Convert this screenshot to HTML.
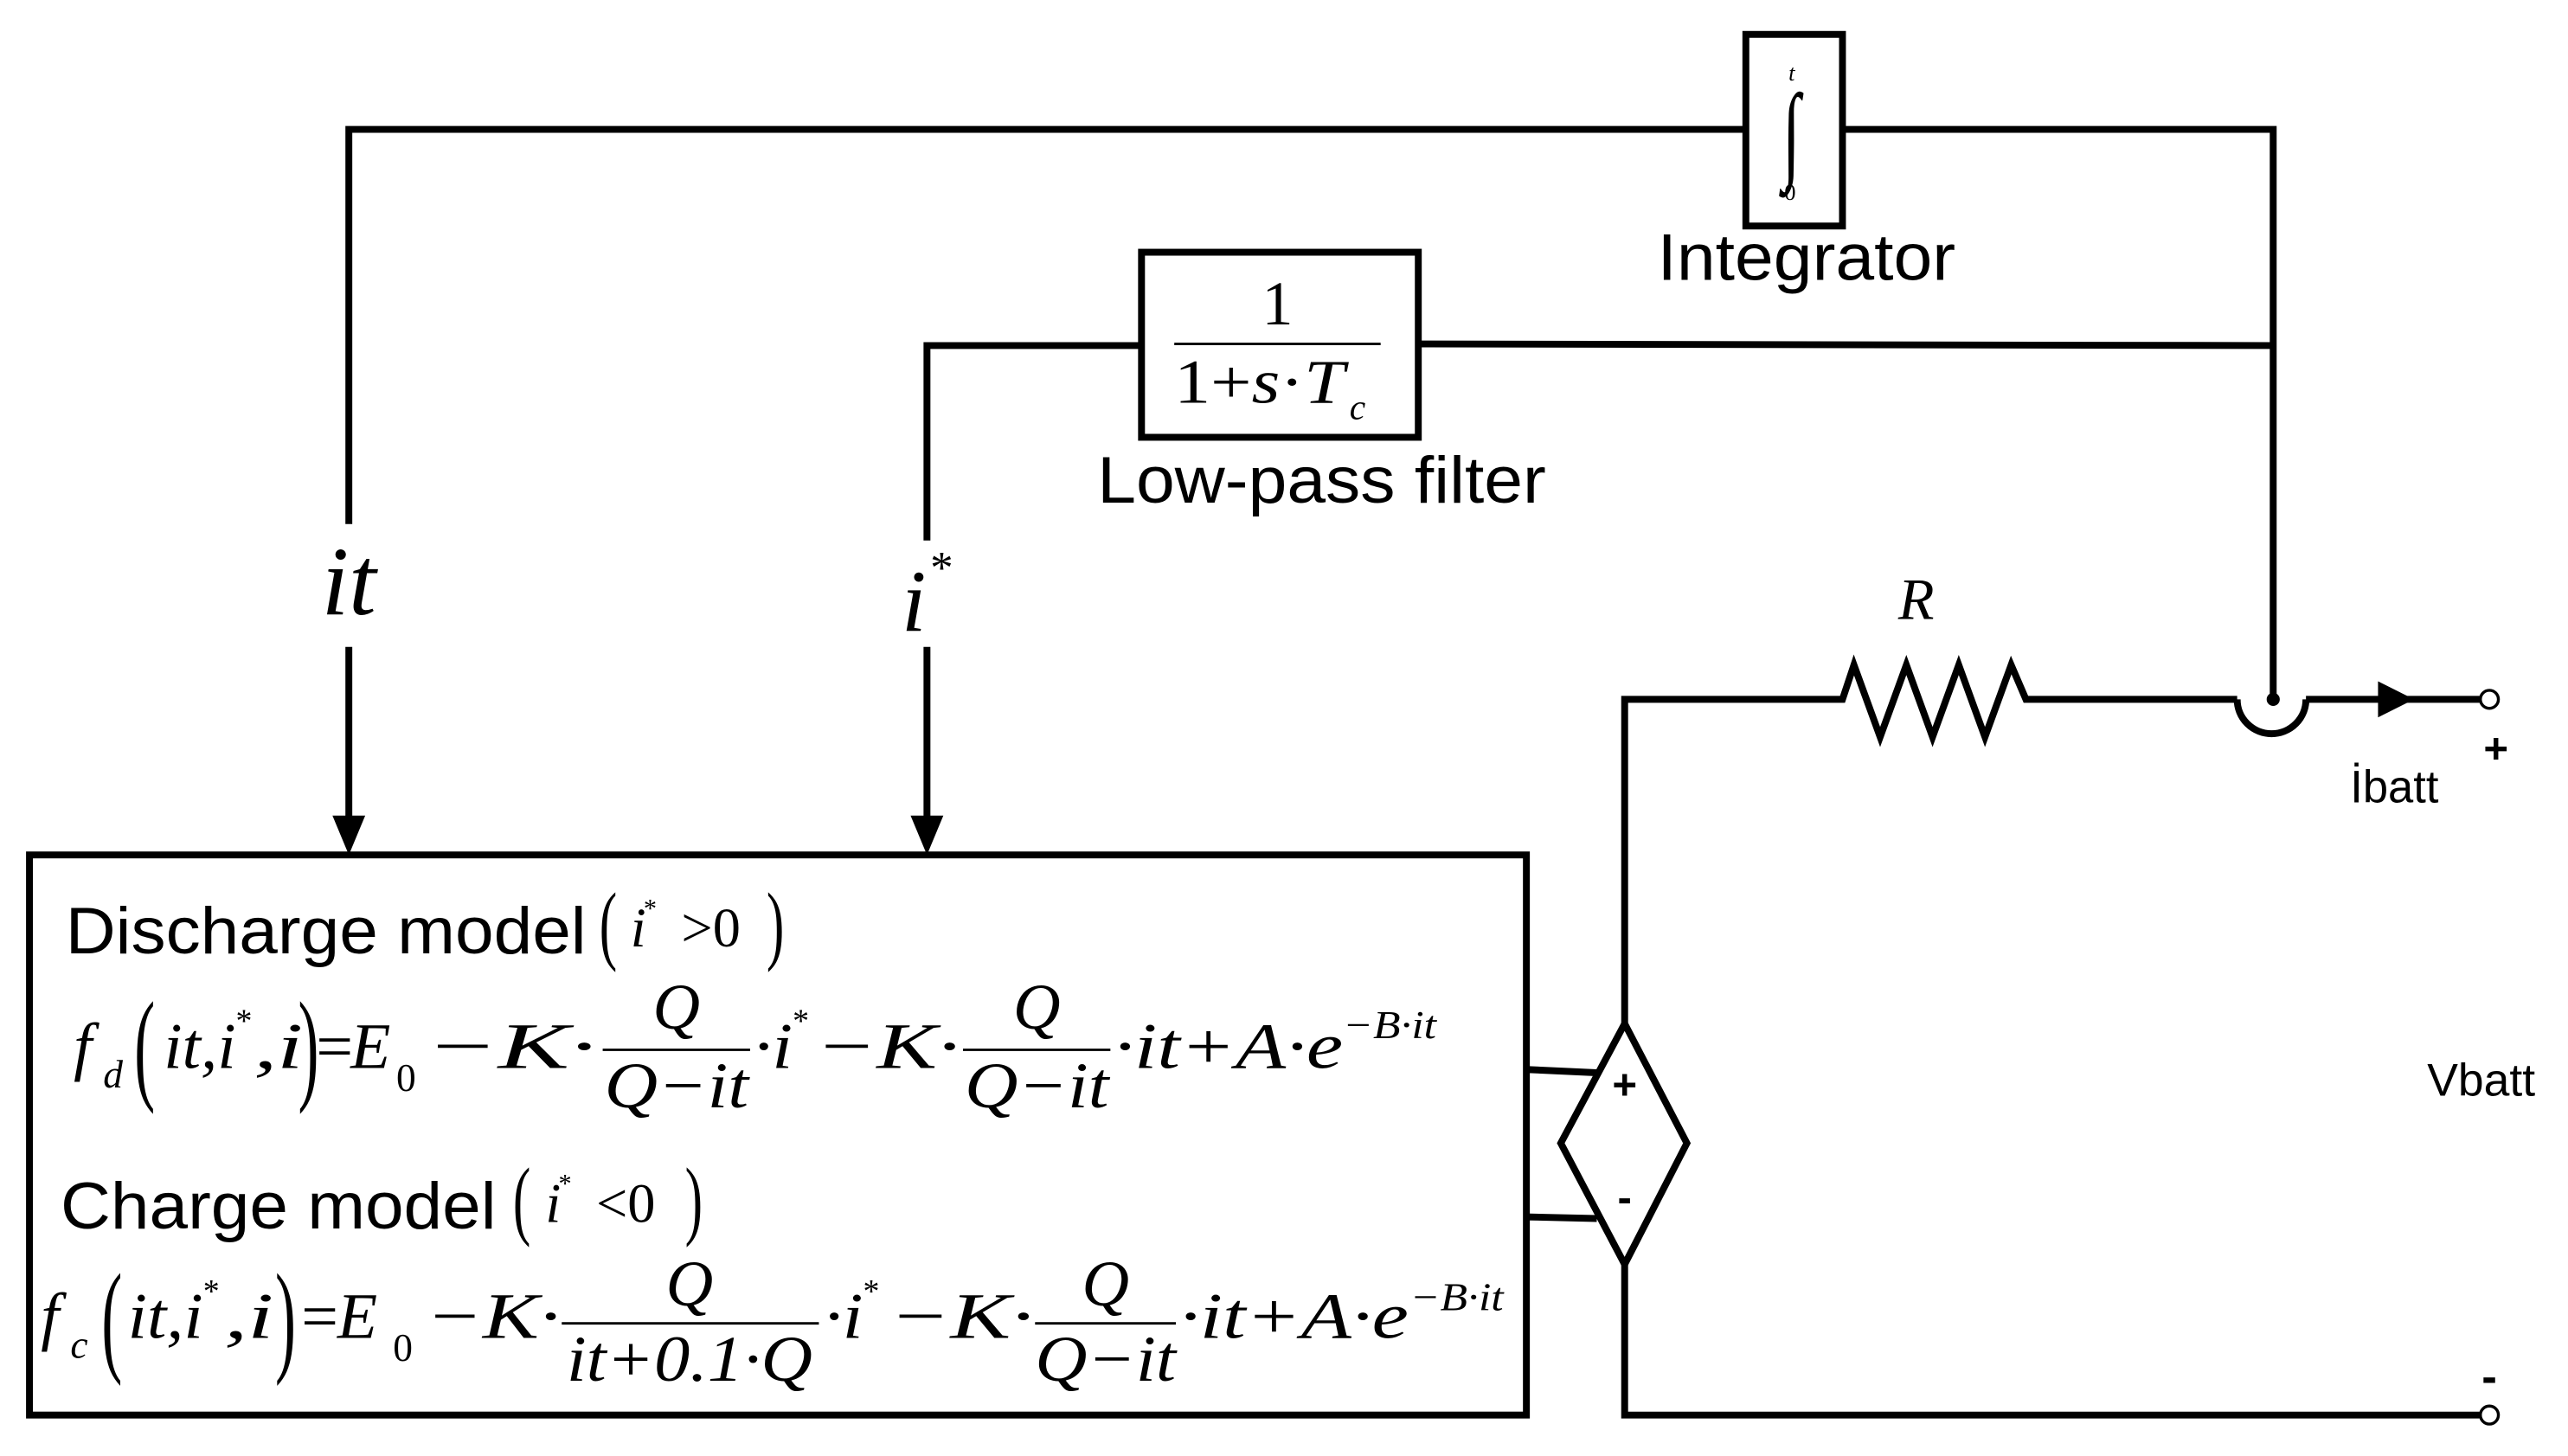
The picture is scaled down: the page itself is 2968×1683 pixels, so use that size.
<!DOCTYPE html>
<html><head><meta charset="utf-8"><style>
html,body{margin:0;padding:0;background:#fff;}
svg{display:block}
.s{font-family:"Liberation Sans",Arial,sans-serif;}
.m{font-family:"Liberation Serif","Times New Roman",serif;font-style:italic;}
.r{font-family:"Liberation Serif","Times New Roman",serif;font-style:normal;}
</style></head><body>
<svg width="2968" height="1683" viewBox="0 0 1568 889" preserveAspectRatio="none" xmlns="http://www.w3.org/2000/svg">
<g fill="none" stroke="#000" stroke-width="4.2" stroke-linejoin="miter">
<polyline points="213,320 213,79 1066,79"/>
<polyline points="1125,79 1388,79 1388,426"/>
<rect x="1066" y="21" width="59" height="117"/>
<line x1="213" y1="395" x2="213" y2="500"/>
<rect x="697" y="154" width="169" height="113"/>
<polyline points="697,211 566,211 566,330"/>
<line x1="866" y1="210" x2="1388" y2="211"/>
<line x1="566" y1="395" x2="566" y2="500"/>
<rect x="18" y="522" width="914" height="342"/>
<polyline points="992,625 992,427 1125,427 1132,406 1148,450 1164,406 1180,450 1196,406 1212,450 1228,406 1237,427 1366,427"/>
<path d="M1366,427 A21,21 0 0 0 1408,427"/>
<line x1="1408" y1="427" x2="1514" y2="427"/>
<polygon points="992,625 1030,698 992,772 953,698"/>
<polyline points="992,772 992,864 1514,864"/>
<line x1="932" y1="653" x2="975" y2="655"/>
<line x1="932" y1="743" x2="975" y2="744"/>
</g>
<g fill="#000">
<polygon points="203,498 223,498 213,522"/>
<polygon points="556,498 576,498 566,522"/>
<polygon points="1452,416 1452,438 1474,427"/>
<circle cx="1388" cy="427" r="4"/>
</g>
<g fill="#fff" stroke="#000" stroke-width="1.8">
<circle cx="1520" cy="427" r="5.5"/>
<circle cx="1520" cy="864" r="5.5"/>
</g>
<text x="1094" y="49" class="m" font-size="14" text-anchor="middle">t</text>
<text x="1094" y="103" class="r" font-size="66" text-anchor="middle" transform="scale(0.6,1) translate(729,0)">∫</text>
<text x="1093" y="122" class="r" font-size="14" text-anchor="middle">0</text>
<text x="1103" y="171" class="s" font-size="40" text-anchor="middle" textLength="182" lengthAdjust="spacingAndGlyphs">Integrator</text>
<text x="780" y="198" class="r" font-size="38" text-anchor="middle">1</text>
<line x1="717" y1="210" x2="843" y2="210" stroke="#000" stroke-width="1.5"/>
<text x="717" y="246" class="r" font-size="38" textLength="104" lengthAdjust="spacingAndGlyphs">1+<tspan class="m">s</tspan>·<tspan class="m">T</tspan></text>
<text x="824" y="256" class="m" font-size="22">c</text>
<text x="807" y="307" class="s" font-size="40" text-anchor="middle" textLength="274" lengthAdjust="spacingAndGlyphs">Low-pass filter</text>
<text x="213" y="375" class="m" font-size="60" text-anchor="middle">it</text>
<text x="558" y="385" class="m" font-size="54" text-anchor="middle">i</text>
<text x="575" y="356" class="r" font-size="28" text-anchor="middle">*</text>
<text x="1170" y="378" class="m" font-size="36" text-anchor="middle">R</text>
<text x="1524" y="466" class="s" font-size="26" text-anchor="middle" font-weight="bold">+</text>
<text x="1435" y="490" class="s" font-size="28" textLength="54" lengthAdjust="spacingAndGlyphs">İbatt</text>
<text x="1482" y="669" class="s" font-size="28" textLength="66" lengthAdjust="spacingAndGlyphs">Vbatt</text>
<text x="1520" y="850" class="s" font-size="28" text-anchor="middle" font-weight="bold">-</text>
<text x="992" y="671" class="s" font-size="26" text-anchor="middle" font-weight="bold">+</text>
<text x="992" y="740" class="s" font-size="26" text-anchor="middle" font-weight="bold">-</text>
<!-- Discharge -->
<text x="40" y="582" class="s" font-size="40" textLength="318" lengthAdjust="spacingAndGlyphs">Discharge model</text>
<text x="366" y="582" class="r" font-size="54" transform="scale(0.6,1) translate(244,0)">(</text>
<text x="385" y="578" class="m" font-size="34">i</text>
<text x="393" y="560" class="r" font-size="16">*</text>
<text x="416" y="578" class="r" font-size="34">&gt;0</text>
<text x="468" y="582" class="r" font-size="54" transform="scale(0.6,1) translate(312,0)">)</text>
<!-- fd -->
<text x="45" y="652" class="m" font-size="40">f</text>
<text x="63" y="664" class="m" font-size="24">d</text>
<text x="82" y="664" class="r" font-size="76" transform="scale(0.5,1) translate(82,0)">(</text>
<text x="100" y="652" class="m" font-size="40" textLength="44" lengthAdjust="spacingAndGlyphs">it,i</text>
<text x="144" y="630" class="r" font-size="20">*</text>
<text x="155" y="652" class="m" font-size="40" textLength="30" lengthAdjust="spacingAndGlyphs">,i</text>
<text x="182" y="664" class="r" font-size="76" transform="scale(0.5,1) translate(182,0)">)</text>
<text x="193" y="652" class="r" font-size="40">=</text>
<text x="214" y="652" class="m" font-size="40">E</text>
<text x="242" y="666" class="r" font-size="24">0</text>
<text x="260" y="652" class="m" font-size="40" textLength="104" lengthAdjust="spacingAndGlyphs">−K·</text>
<text x="413" y="628" class="m" font-size="40" text-anchor="middle">Q</text>
<line x1="368" y1="641" x2="458" y2="641" stroke="#000" stroke-width="1.5"/>
<text x="413" y="676" class="m" font-size="40" text-anchor="middle" textLength="88" lengthAdjust="spacingAndGlyphs">Q−it</text>
<text x="460" y="652" class="m" font-size="40" textLength="24" lengthAdjust="spacingAndGlyphs">·i</text>
<text x="484" y="630" class="r" font-size="20">*</text>
<text x="498" y="652" class="m" font-size="40" textLength="88" lengthAdjust="spacingAndGlyphs">−K·</text>
<text x="633" y="628" class="m" font-size="40" text-anchor="middle">Q</text>
<line x1="588" y1="641" x2="678" y2="641" stroke="#000" stroke-width="1.5"/>
<text x="633" y="676" class="m" font-size="40" text-anchor="middle" textLength="88" lengthAdjust="spacingAndGlyphs">Q−it</text>
<text x="680" y="652" class="m" font-size="40" textLength="140" lengthAdjust="spacingAndGlyphs">·it+A·e</text>
<text x="820" y="634" class="m" font-size="24" textLength="57" lengthAdjust="spacingAndGlyphs">−B·it</text>
<!-- Charge -->
<text x="37" y="750" class="s" font-size="40" textLength="266" lengthAdjust="spacingAndGlyphs">Charge model</text>
<text x="313" y="750" class="r" font-size="54" transform="scale(0.6,1) translate(209,0)">(</text>
<text x="333" y="746" class="m" font-size="34">i</text>
<text x="341" y="728" class="r" font-size="16">*</text>
<text x="364" y="746" class="r" font-size="34">&lt;0</text>
<text x="418" y="750" class="r" font-size="54" transform="scale(0.6,1) translate(279,0)">)</text>
<!-- fc -->
<text x="25" y="817" class="m" font-size="40">f</text>
<text x="43" y="829" class="m" font-size="24">c</text>
<text x="62" y="830" class="r" font-size="76" transform="scale(0.5,1) translate(62,0)">(</text>
<text x="78" y="817" class="m" font-size="40" textLength="46" lengthAdjust="spacingAndGlyphs">it,i</text>
<text x="124" y="795" class="r" font-size="20">*</text>
<text x="137" y="817" class="m" font-size="40" textLength="30" lengthAdjust="spacingAndGlyphs">,i</text>
<text x="168" y="830" class="r" font-size="76" transform="scale(0.5,1) translate(168,0)">)</text>
<text x="184" y="817" class="r" font-size="40">=</text>
<text x="206" y="817" class="m" font-size="40">E</text>
<text x="240" y="831" class="r" font-size="24">0</text>
<text x="260" y="817" class="m" font-size="40" textLength="82" lengthAdjust="spacingAndGlyphs">−K·</text>
<text x="421" y="797" class="m" font-size="40" text-anchor="middle">Q</text>
<line x1="343" y1="808" x2="500" y2="808" stroke="#000" stroke-width="1.5"/>
<text x="421" y="843" class="m" font-size="40" text-anchor="middle" textLength="150" lengthAdjust="spacingAndGlyphs">it+0.1·Q</text>
<text x="503" y="817" class="m" font-size="40" textLength="24" lengthAdjust="spacingAndGlyphs">·i</text>
<text x="527" y="795" class="r" font-size="20">*</text>
<text x="543" y="817" class="m" font-size="40" textLength="88" lengthAdjust="spacingAndGlyphs">−K·</text>
<text x="675" y="797" class="m" font-size="40" text-anchor="middle">Q</text>
<line x1="632" y1="808" x2="718" y2="808" stroke="#000" stroke-width="1.5"/>
<text x="675" y="843" class="m" font-size="40" text-anchor="middle" textLength="86" lengthAdjust="spacingAndGlyphs">Q−it</text>
<text x="720" y="817" class="m" font-size="40" textLength="140" lengthAdjust="spacingAndGlyphs">·it+A·e</text>
<text x="861" y="800" class="m" font-size="24" textLength="57" lengthAdjust="spacingAndGlyphs">−B·it</text>
</svg>
</body></html>
